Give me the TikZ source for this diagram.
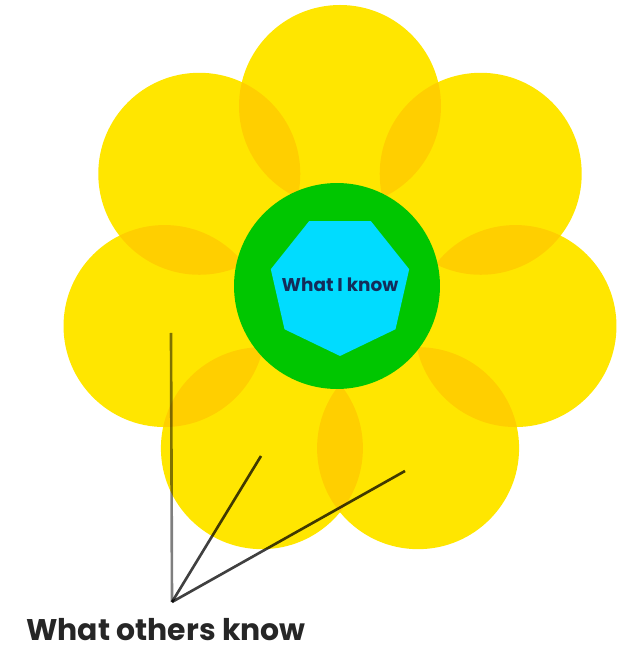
\documentclass[tikz,border=0pt]{standalone}
\usepackage{fontspec}
\setmainfont{Poppins}
\usetikzlibrary{shapes.geometric,calc}
\definecolor{petalyellow}{RGB}{255,230,0}
\definecolor{lensorange}{RGB}{255,207,0}
\definecolor{ringgreen}{RGB}{0,198,0}
\definecolor{corecyan}{RGB}{0,220,255}
\definecolor{navytext}{RGB}{20,45,90}
\definecolor{inkgray}{RGB}{38,38,38}

\begin{document}
\begin{tikzpicture}[
  x=0.02cm, y=0.02cm,
  petal/.style={fill=petalyellow},
  lens/.style={fill=lensorange},
  ring/.style={circle, fill=ringgreen, minimum size=4.12cm, inner sep=0pt},
  core/.style={regular polygon, regular polygon sides=7, shape border rotate=180, fill=corecyan, minimum size=2.84cm, inner sep=0pt},
  coretext/.style={font=\bfseries\fontsize{10.5}{11}\selectfont, text=navytext, inner sep=0pt},
  pointer/.style={line width=1.5pt, draw=black, draw opacity=0.75},
  caption/.style={font=\bfseries\fontsize{17}{20}\selectfont, text=inkgray, anchor=base, inner sep=0pt}
]
\useasboundingbox (0,0) rectangle (616,656);
\coordinate (c) at (340,370);
\foreach \k in {0,...,6}
  \fill[petal] ($(c)+({90+\k*360/7}:180)$) circle (101);
\foreach \k [evaluate=\k as \j using {int(mod(\k+1,7))}] in {0,...,6} {
  \begin{scope}
    \clip ($(c)+({90+\k*360/7}:180)$) circle (101);
    \fill[lens] ($(c)+({90+\j*360/7}:180)$) circle (101);
  \end{scope}
}
\node[ring] (ring) at (337,370) {};
\node[core] (core) at (340,371) {};
\node[coretext] (me) at (core.center) {What I know};

\node[caption] (others) at (166,15) {What others know};
\coordinate (apex) at (172,54);
\coordinate (tipa) at (171,323);
\coordinate (tipb) at (261,200);
\coordinate (tipc) at (405,185);
\draw[pointer, draw opacity=0.5] (tipa) -- (apex);
\draw[pointer] (tipb) -- (apex);
\draw[pointer] (tipc) -- (apex);
\end{tikzpicture}
\end{document}
